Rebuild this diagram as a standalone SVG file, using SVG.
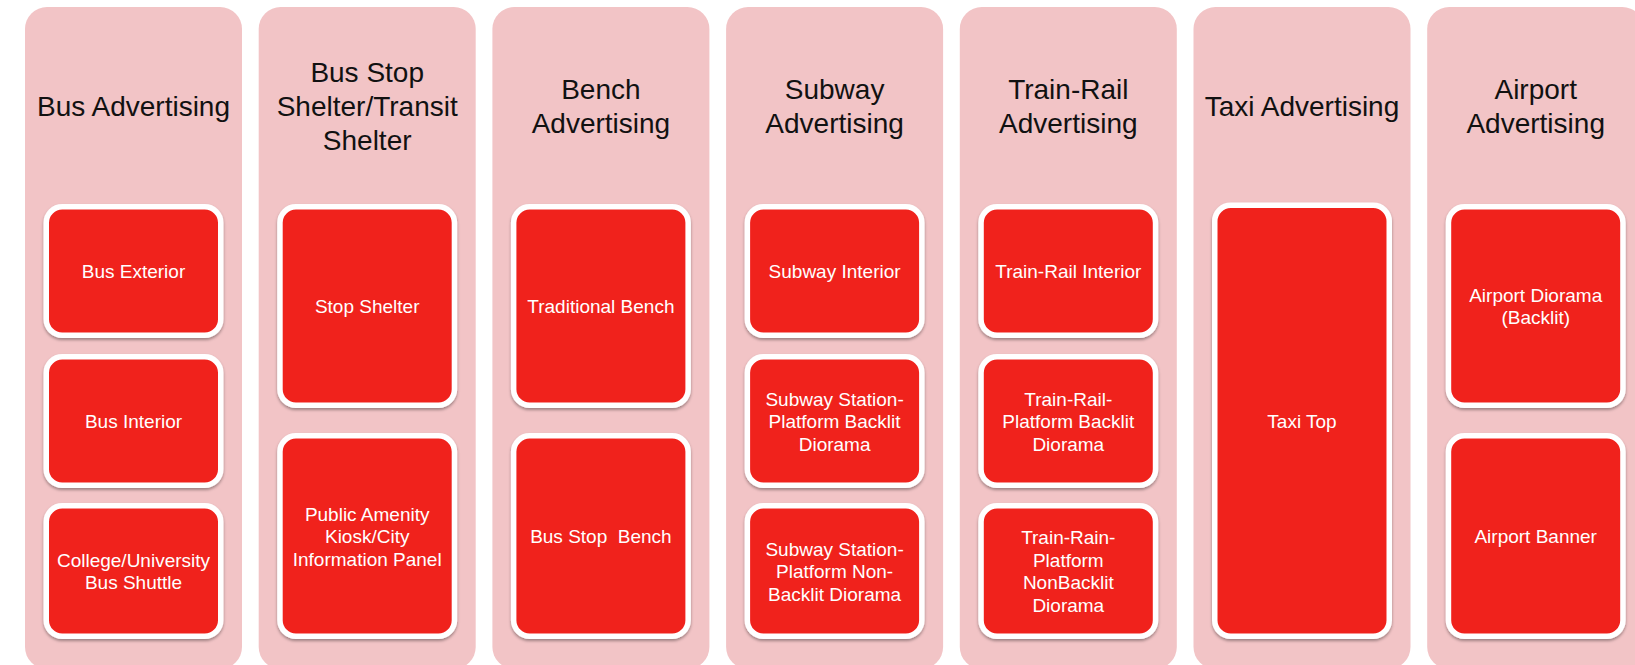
<svg xmlns="http://www.w3.org/2000/svg" width="1635" height="665" viewBox="0 0 1635 665">
  <defs>
    <filter id="lift" x="-10%" y="-10%" width="120%" height="125%">
      <feDropShadow dx="0" dy="2" stdDeviation="1.5" flood-color="#000" flood-opacity="0.35"/>
    </filter>
    <style>
      .panel { fill: #F2C4C6; }
      .item { fill: #F0221F; stroke: #FFFFFF; stroke-width: 5.5; filter: url(#lift); }
      .title { font-family: "Liberation Sans", Arial, sans-serif; font-size: 28px; fill: #111111; text-anchor: middle; }
      .label { font-family: "Liberation Sans", Arial, sans-serif; font-size: 19px; fill: #FFFFFF; text-anchor: middle; }
    </style>
  </defs>

  <rect width="1635" height="665" fill="#FFFFFF"/>

  <!-- Bus Advertising -->
  <g id="col-bus">
    <rect class="panel" x="25" y="7" width="217" height="662" rx="22"/>
    <text class="title" x="133.5" y="116">Bus Advertising</text>
    <g id="bus-exterior">
      <rect class="item" x="46.25" y="206.75" width="174.5" height="128.5" rx="16"/>
      <text class="label" x="133.5" y="278">Bus Exterior</text>
    </g>
    <g id="bus-interior">
      <rect class="item" x="46.25" y="356.75" width="174.5" height="128.5" rx="16"/>
      <text class="label" x="133.5" y="428">Bus Interior</text>
    </g>
    <g id="bus-shuttle">
      <rect class="item" x="46.25" y="505.75" width="174.5" height="130.5" rx="16"/>
      <text class="label" x="133.5" y="566.75">College/University</text>
      <text class="label" x="133.5" y="589.25">Bus Shuttle</text>
    </g>
  </g>

  <!-- Bus Stop Shelter / Transit Shelter -->
  <g id="col-shelter">
    <rect class="panel" x="258.7" y="7" width="217" height="662" rx="22"/>
    <text class="title" x="367.2" y="82">Bus Stop</text>
    <text class="title" x="367.2" y="116">Shelter/Transit</text>
    <text class="title" x="367.2" y="150">Shelter</text>
    <g id="stop-shelter">
      <rect class="item" x="279.95" y="206.75" width="174.5" height="198.5" rx="16"/>
      <text class="label" x="367.2" y="313">Stop Shelter</text>
    </g>
    <g id="amenity-kiosk">
      <rect class="item" x="279.95" y="435.75" width="174.5" height="200.5" rx="16"/>
      <text class="label" x="367.2" y="520.5">Public Amenity</text>
      <text class="label" x="367.2" y="543">Kiosk/City</text>
      <text class="label" x="367.2" y="565.5">Information Panel</text>
    </g>
  </g>

  <!-- Bench Advertising -->
  <g id="col-bench">
    <rect class="panel" x="492.4" y="7" width="217" height="662" rx="22"/>
    <text class="title" x="600.9" y="99">Bench</text>
    <text class="title" x="600.9" y="133">Advertising</text>
    <g id="traditional-bench">
      <rect class="item" x="513.65" y="206.75" width="174.5" height="198.5" rx="16"/>
      <text class="label" x="600.9" y="313">Traditional Bench</text>
    </g>
    <g id="bus-stop-bench">
      <rect class="item" x="513.65" y="435.75" width="174.5" height="200.5" rx="16"/>
      <text class="label" x="600.9" y="543" xml:space="preserve">Bus Stop  Bench</text>
    </g>
  </g>

  <!-- Subway Advertising -->
  <g id="col-subway">
    <rect class="panel" x="726.1" y="7" width="217" height="662" rx="22"/>
    <text class="title" x="834.6" y="99">Subway</text>
    <text class="title" x="834.6" y="133">Advertising</text>
    <g id="subway-interior">
      <rect class="item" x="747.35" y="206.75" width="174.5" height="128.5" rx="16"/>
      <text class="label" x="834.6" y="278">Subway Interior</text>
    </g>
    <g id="subway-backlit">
      <rect class="item" x="747.35" y="356.75" width="174.5" height="128.5" rx="16"/>
      <text class="label" x="834.6" y="405.5">Subway Station-</text>
      <text class="label" x="834.6" y="428">Platform Backlit</text>
      <text class="label" x="834.6" y="450.5">Diorama</text>
    </g>
    <g id="subway-nonbacklit">
      <rect class="item" x="747.35" y="505.75" width="174.5" height="130.5" rx="16"/>
      <text class="label" x="834.6" y="555.5">Subway Station-</text>
      <text class="label" x="834.6" y="578">Platform Non-</text>
      <text class="label" x="834.6" y="600.5">Backlit Diorama</text>
    </g>
  </g>

  <!-- Train-Rail Advertising -->
  <g id="col-train">
    <rect class="panel" x="959.8" y="7" width="217" height="662" rx="22"/>
    <text class="title" x="1068.3" y="99">Train-Rail</text>
    <text class="title" x="1068.3" y="133">Advertising</text>
    <g id="train-interior">
      <rect class="item" x="981.05" y="206.75" width="174.5" height="128.5" rx="16"/>
      <text class="label" x="1068.3" y="278">Train-Rail Interior</text>
    </g>
    <g id="train-backlit">
      <rect class="item" x="981.05" y="356.75" width="174.5" height="128.5" rx="16"/>
      <text class="label" x="1068.3" y="405.5">Train-Rail-</text>
      <text class="label" x="1068.3" y="428">Platform Backlit</text>
      <text class="label" x="1068.3" y="450.5">Diorama</text>
    </g>
    <g id="train-nonbacklit">
      <rect class="item" x="981.05" y="505.75" width="174.5" height="130.5" rx="16"/>
      <text class="label" x="1068.3" y="544.25">Train-Rain-</text>
      <text class="label" x="1068.3" y="566.75">Platform</text>
      <text class="label" x="1068.3" y="589.25">NonBacklit</text>
      <text class="label" x="1068.3" y="611.75">Diorama</text>
    </g>
  </g>

  <!-- Taxi Advertising -->
  <g id="col-taxi">
    <rect class="panel" x="1193.5" y="7" width="217" height="662" rx="22"/>
    <text class="title" x="1302" y="116">Taxi Advertising</text>
    <g id="taxi-top">
      <rect class="item" x="1214.75" y="205.25" width="174.5" height="431" rx="16"/>
      <text class="label" x="1302" y="427.5">Taxi Top</text>
    </g>
  </g>

  <!-- Airport Advertising -->
  <g id="col-airport">
    <rect class="panel" x="1427.2" y="7" width="217" height="662" rx="22"/>
    <text class="title" x="1535.7" y="99">Airport</text>
    <text class="title" x="1535.7" y="133">Advertising</text>
    <g id="airport-diorama">
      <rect class="item" x="1448.45" y="206.75" width="174.5" height="198.5" rx="16"/>
      <text class="label" x="1535.7" y="301.75">Airport Diorama</text>
      <text class="label" x="1535.7" y="324.25">(Backlit)</text>
    </g>
    <g id="airport-banner">
      <rect class="item" x="1448.45" y="435.75" width="174.5" height="200.5" rx="16"/>
      <text class="label" x="1535.7" y="543">Airport Banner</text>
    </g>
  </g>
</svg>
